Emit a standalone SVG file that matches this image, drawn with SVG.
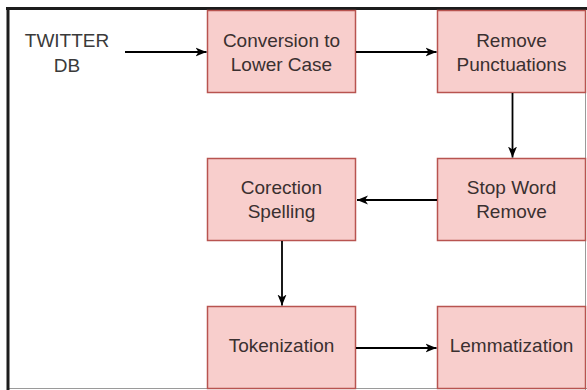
<svg xmlns="http://www.w3.org/2000/svg" width="587" height="390" viewBox="0 0 587 390">
  <style>
    .box { fill: #f8cecc; stroke: #b85450; stroke-width: 1.5; }
    .lbl { font-family: "Liberation Sans", Arial, sans-serif; font-size: 19px; fill: #3a3030; text-anchor: middle; }
    .plain { fill: #3a3a3a; }
    .edge { stroke: #000; stroke-width: 1.8; fill: none; }
  </style>
  <defs>
    <marker id="arr" markerUnits="userSpaceOnUse" markerWidth="12" markerHeight="10" refX="11" refY="5" orient="auto">
      <path d="M0,0.5 L11,5 L0,9.5 L3,5 z" fill="#000"/>
    </marker>
  </defs>
  <rect x="0" y="0" width="587" height="390" fill="#ffffff"/>
  <g id="frame">
    <line x1="585.5" y1="8" x2="585.5" y2="390" stroke="#9a9a9a" stroke-width="1"/>
    <line x1="8" y1="388.5" x2="587" y2="388.5" stroke="#9a9a9a" stroke-width="1"/>
    <line x1="6" y1="8.5" x2="587" y2="8.5" stroke="#1c1c1c" stroke-width="3"/>
    <line x1="8" y1="7" x2="8" y2="390" stroke="#1c1c1c" stroke-width="3"/>
  </g>
  <g id="twitter-db">
    <text class="lbl plain" x="67" y="47">TWITTER</text>
    <text class="lbl plain" x="67" y="72">DB</text>
  </g>
  <g id="conversion">
    <rect class="box" x="207.5" y="10.5" width="148" height="82"/>
    <text class="lbl" x="281.5" y="47">Conversion to</text>
    <text class="lbl" x="281.5" y="71">Lower Case</text>
  </g>
  <g id="punctuations">
    <rect class="box" x="437.5" y="10.5" width="148" height="82"/>
    <text class="lbl" x="511.5" y="47">Remove</text>
    <text class="lbl" x="511.5" y="71">Punctuations</text>
  </g>
  <g id="stopword">
    <rect class="box" x="437.5" y="158.5" width="148" height="82"/>
    <text class="lbl" x="511.5" y="194">Stop Word</text>
    <text class="lbl" x="511.5" y="218">Remove</text>
  </g>
  <g id="spelling">
    <rect class="box" x="207.5" y="158.5" width="148" height="82"/>
    <text class="lbl" x="281.5" y="194">Corection</text>
    <text class="lbl" x="281.5" y="218">Spelling</text>
  </g>
  <g id="tokenization">
    <rect class="box" x="207.5" y="306.5" width="148" height="82"/>
    <text class="lbl" x="281.5" y="352">Tokenization</text>
  </g>
  <g id="lemmatization">
    <rect class="box" x="437.5" y="306.5" width="148" height="82"/>
    <text class="lbl" x="511.5" y="352">Lemmatization</text>
  </g>
  <g id="connectors">
    <line class="edge" x1="125" y1="52" x2="206.5" y2="52" marker-end="url(#arr)"/>
    <line class="edge" x1="356" y1="52" x2="436.5" y2="52" marker-end="url(#arr)"/>
    <line class="edge" x1="512.5" y1="93" x2="512.5" y2="157.5" marker-end="url(#arr)"/>
    <line class="edge" x1="437" y1="200" x2="357" y2="200" marker-end="url(#arr)"/>
    <line class="edge" x1="282" y1="241" x2="282" y2="305.5" marker-end="url(#arr)"/>
    <line class="edge" x1="356" y1="348" x2="436.5" y2="348" marker-end="url(#arr)"/>
  </g>
</svg>
